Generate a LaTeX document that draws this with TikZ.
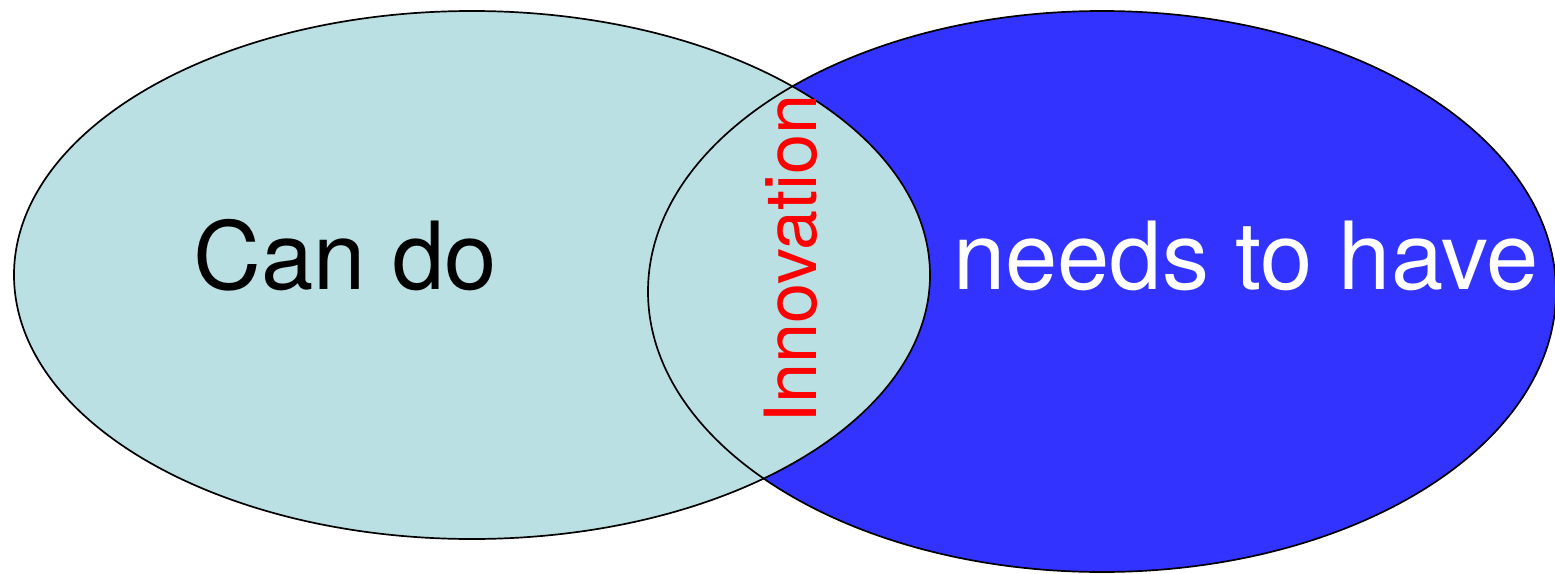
\documentclass[tikz,border=0pt]{standalone}
\usepackage{fontspec}
\setmainfont{TeX Gyre Heros}
\definecolor{cancol}{RGB}{187,224,227}
\definecolor{needcol}{RGB}{51,51,255}
\definecolor{innocol}{RGB}{255,0,0}
\tikzset{
  outline/.style={draw=black, line width=1.7pt},
  bigtext/.style={font=\fontsize{94}{98}\selectfont, inner sep=0pt, anchor=base},
  innotext/.style={font=\fontsize{72}{76}\selectfont, text=innocol, inner sep=0pt, anchor=base, rotate=90}
}
\begin{document}
\begin{tikzpicture}[x=1pt,y=-1pt]
  \useasboundingbox (0,0) rectangle (1555,573);
  \coordinate (lc) at (472,275);
  \coordinate (rc) at (1102,291.5);
  % fills
  \fill[needcol] (rc) ellipse [x radius=454, y radius=280.5];
  \fill[cancol] (lc) ellipse [x radius=458, y radius=264];
  % outlines
  \draw[outline] (rc) ellipse [x radius=454, y radius=280.5];
  \draw[outline] (lc) ellipse [x radius=458, y radius=264];
  % labels
  \node[bigtext, text=black] (cando) at (345,289) {Can do};
  \node[bigtext, text=white] (needs) at (1246,289) {needs to have};
  \node[innotext] (inno) at (816,259) {Innovation};
\end{tikzpicture}
\end{document}
